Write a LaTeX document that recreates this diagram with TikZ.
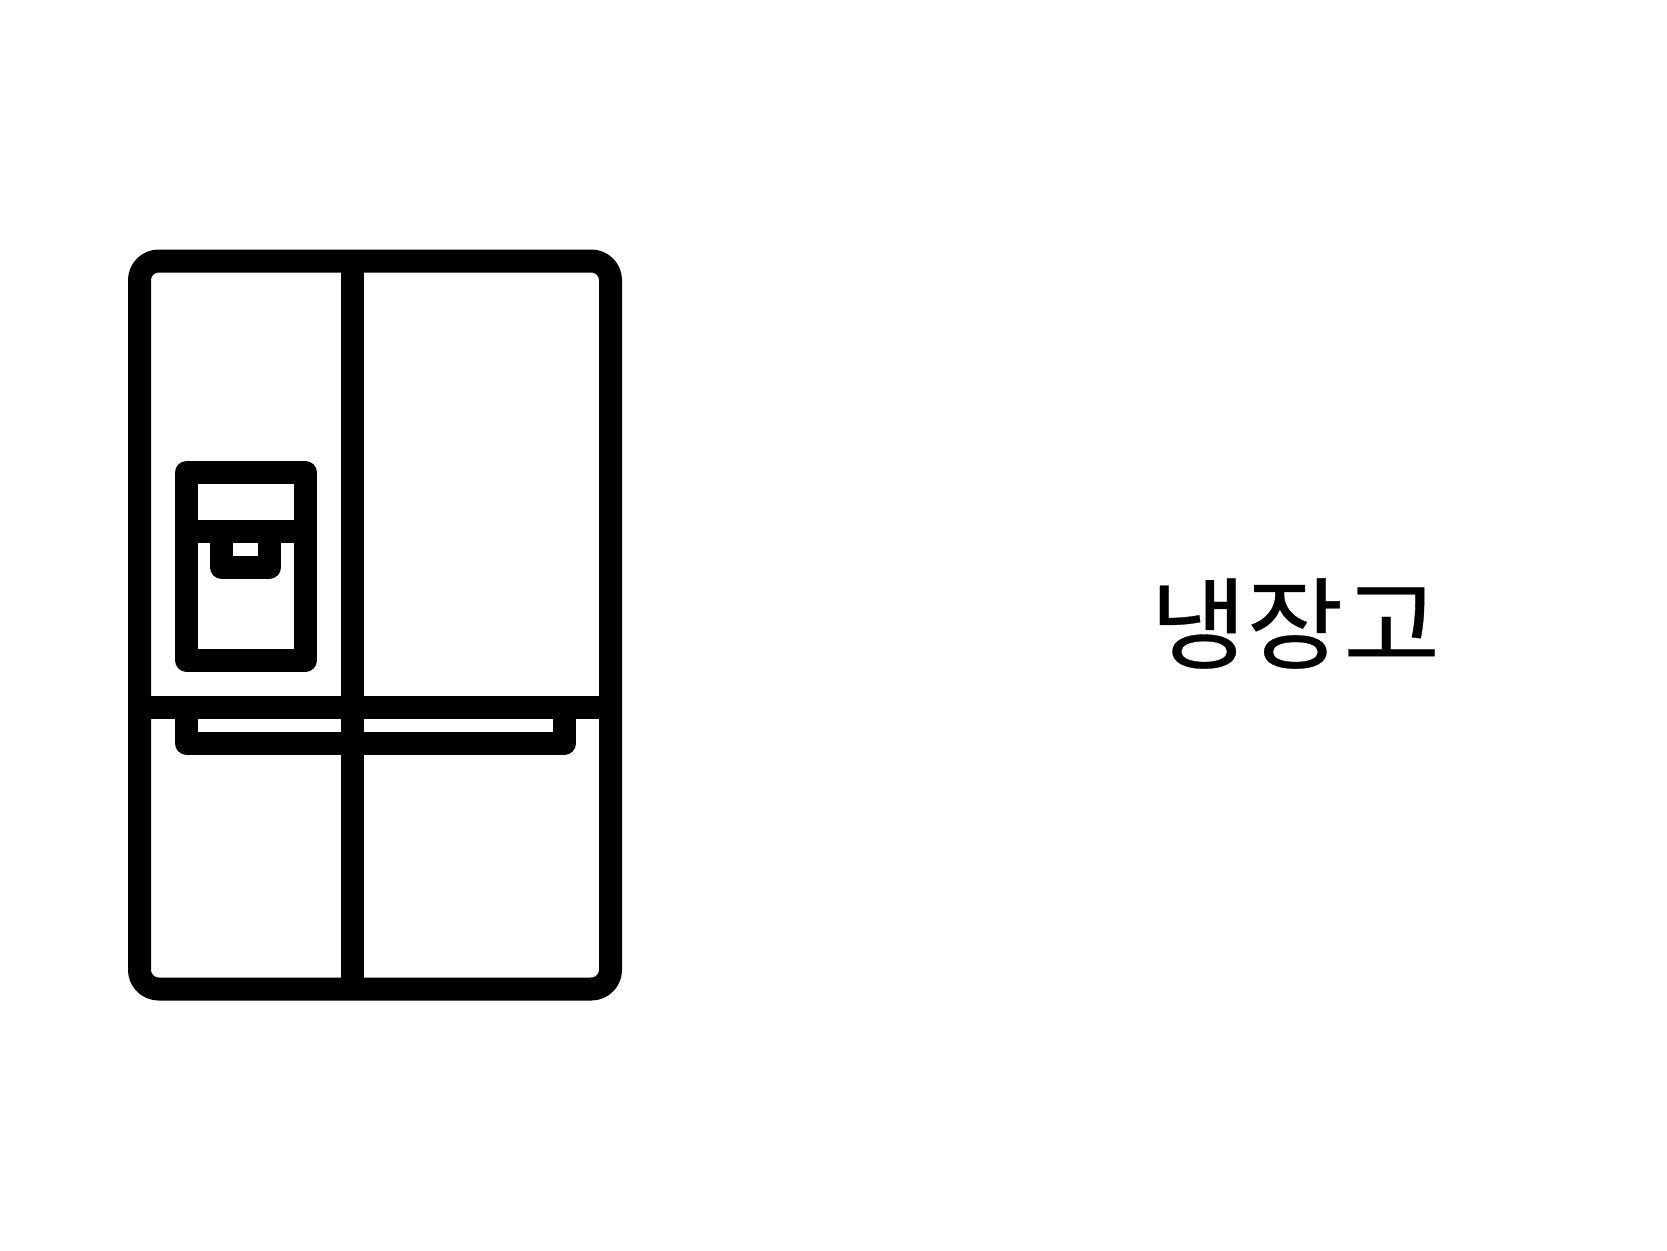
\documentclass[tikz,border=0pt]{standalone}
\usepackage{fontspec}
\newfontfamily\korfont[FakeBold=0.3]{Noto Sans CJK KR}
\tikzset{
  icon/.style={draw=black,line width=13.8pt,line join=round},
  label text/.style={font=\korfont\fontsize{60pt}{72pt}\selectfont,text=black,inner sep=0pt,xscale=1.05}
}
\begin{document}
\begin{tikzpicture}[x=0.6pt,y=-0.6pt]
\useasboundingbox (0,0) rectangle (1667,1250);
% body
\draw[icon,rounded corners=11.5pt] (139.5,261) rectangle (610.5,989);
% centre split and shelf
\draw[icon] (352,261) -- (352,989);
\draw[icon] (139.5,707.5) -- (610.5,707.5);
% dispenser
\draw[icon] (186.5,472.5) rectangle (305.5,660);
\draw[icon] (186.5,531.5) -- (305.5,531.5);
\draw[icon] (221.5,531.5) -- (221.5,567) -- (269.5,567) -- (269.5,531.5);
% handle tray
\draw[icon] (186.5,707.5) -- (186.5,743) -- (564.5,743) -- (564.5,707.5);
% label
\node[label text] (fridge) at (1295,623.5) {냉장고};
\end{tikzpicture}
\end{document}
